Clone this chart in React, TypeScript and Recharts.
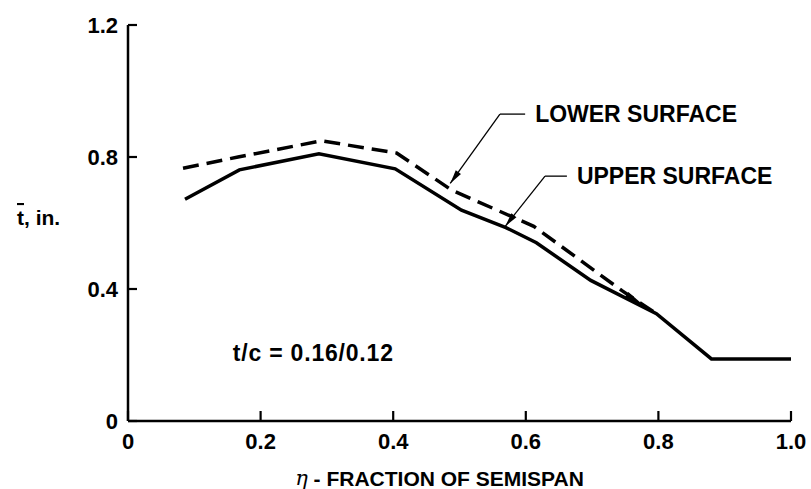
import { LineChart, Line, XAxis, YAxis, ReferenceLine, ReferenceDot, Label } from "recharts";

// upper surface (solid)
const upperSpan = [0.086, 0.168, 0.288, 0.403, 0.503, 0.57, 0.616, 0.698, 0.797, 0.88, 1.0];
const upperT = [0.672, 0.761, 0.81, 0.764, 0.639, 0.586, 0.54, 0.426, 0.325, 0.188, 0.188];

// lower surface (dashed), merges with upper near 0.75
const lowerSpan = [0.083, 0.166, 0.292, 0.405, 0.488, 0.612, 0.745, 0.797];
const lowerT = [0.766, 0.8, 0.849, 0.812, 0.7, 0.59, 0.395, 0.325];

const xTicks = [0, 0.2, 0.4, 0.6, 0.8, 1.0];
const yTicks = [0, 0.4, 0.8, 1.2];

// leader callouts: elbow, end of the short horizontal, arrow tip
const callouts = [
  { text: "LOWER SURFACE", elbowX: 0.561, endX: 0.599, y: 0.93, tipX: 0.486, tipY: 0.72 },
  { text: "UPPER SURFACE", elbowX: 0.629, endX: 0.662, y: 0.742, tipX: 0.569, tipY: 0.59 },
];

const upper = upperSpan.map((x, i) => ({ x, t: upperT[i] }));
const lower = lowerSpan.map((x, i) => ({ x, t: lowerT[i] }));

const FONT = "'Liberation Sans', Arial, sans-serif";
const fmt = (v: number) => (v === 0 ? "0" : v.toFixed(1));

function Arrow(p: any) {
  const { x1, y1, x2, y2, bare } = p;
  const dx = x2 - x1, dy = y2 - y1;
  const len = Math.hypot(dx, dy) || 1;
  const ux = dx / len, uy = dy / len;
  const L = bare ? len : 14, W = 3.2;
  const bx = x2 - ux * L, by = y2 - uy * L;
  const pts = `${x2},${y2} ${bx - uy * W},${by + ux * W} ${bx + uy * W},${by - ux * W}`;
  return (
    <g>
      {!bare && <line x1={x1} y1={y1} x2={x2} y2={y2} stroke="#000" strokeWidth={1.3} />}
      <polygon points={pts} fill="#000" />
    </g>
  );
}

function Leader(p: any) {
  const { x1, y1, x2, y2, text } = p;
  return (
    <g>
      <line x1={x1} y1={y1} x2={x2} y2={y2} stroke="#000" strokeWidth={1.3} />
      <text x={x2 + 10} y={y2} dominantBaseline="central" fontFamily={FONT} fontWeight="bold" fontSize={23} fill="#000">
        {text}
      </text>
    </g>
  );
}

export default function App() {
  return (
    <div style={{ position: "absolute", left: 0, top: 0, background: "#fff" }}>
      <LineChart width={811} height={489} margin={{ top: 25, right: 20, left: 0, bottom: 0 }}>
        <XAxis
          type="number"
          dataKey="x"
          domain={[0, 1]}
          ticks={xTicks}
          tickFormatter={fmt}
          height={68}
          tickSize={-10}
          tickMargin={22}
          axisLine={{ stroke: "#000", strokeWidth: 2.5 }}
          tickLine={{ stroke: "#000", strokeWidth: 2.2 }}
          tick={{ fill: "#000", fontSize: 22, fontWeight: "bold", fontFamily: FONT }}
        >
          <Label
            content={({ viewBox }: any) => (
              <text x={viewBox.x + viewBox.width / 2 - 20} y={viewBox.y + 57} textAnchor="middle" dominantBaseline="central" fontFamily={FONT} fontWeight="bold" fontSize={21} fill="#000">
                <tspan fontStyle="italic" fontWeight="normal" fontFamily="'DejaVu Serif', serif">η</tspan>
                {" - FRACTION OF SEMISPAN"}
              </text>
            )}
          />
        </XAxis>
        <YAxis
          type="number"
          dataKey="t"
          domain={[0, 1.2]}
          ticks={yTicks}
          tickFormatter={fmt}
          width={128}
          tickSize={-9}
          tickMargin={19}
          axisLine={{ stroke: "#000", strokeWidth: 2.5 }}
          tickLine={{ stroke: "#000", strokeWidth: 2.2 }}
          tick={{ fill: "#000", fontSize: 22, fontWeight: "bold", fontFamily: FONT }}
        >
          <Label
            content={({ viewBox }: any) => (
              <text x={viewBox.x + 17} y={217} dominantBaseline="central" fontFamily={FONT} fontWeight="bold" fontSize={21} fill="#000">
                <tspan textDecoration="overline">t</tspan>
                {", in."}
              </text>
            )}
          />
        </YAxis>
        <Line data={lower} dataKey="t" stroke="#000" strokeWidth={3.5} strokeDasharray="16 8" dot={false} isAnimationActive={false} />
        <Line data={upper} dataKey="t" stroke="#000" strokeWidth={3.5} dot={false} isAnimationActive={false} />
        {callouts.map((c) => (
          <ReferenceLine
            key={c.text + "h"}
            segment={[{ x: c.elbowX, y: c.y }, { x: c.endX, y: c.y }]}
            shape={(p: any) => <Leader {...p} text={c.text} />}
          />
        ))}
        {callouts.map((c) => (
          <ReferenceLine
            key={c.text + "d"}
            segment={[{ x: c.elbowX, y: c.y }, { x: c.tipX, y: c.tipY }]}
            shape={(p: any) => <Arrow {...p} />}
          />
        ))}
        <ReferenceLine
          segment={[{ x: 0.752, y: 0.383 }, { x: 0.782, y: 0.343 }]}
          shape={(p: any) => <Arrow {...p} bare />}
        />
        <ReferenceDot
          x={0.158}
          y={0.206}
          r={0}
          shape={(p: any) => (
            <text x={p.cx} y={p.cy} dominantBaseline="central" fontFamily={FONT} fontWeight="bold" fontSize={23} letterSpacing={0.8} fill="#000">
              t/c = 0.16/0.12
            </text>
          )}
        />
      </LineChart>
    </div>
  );
}
